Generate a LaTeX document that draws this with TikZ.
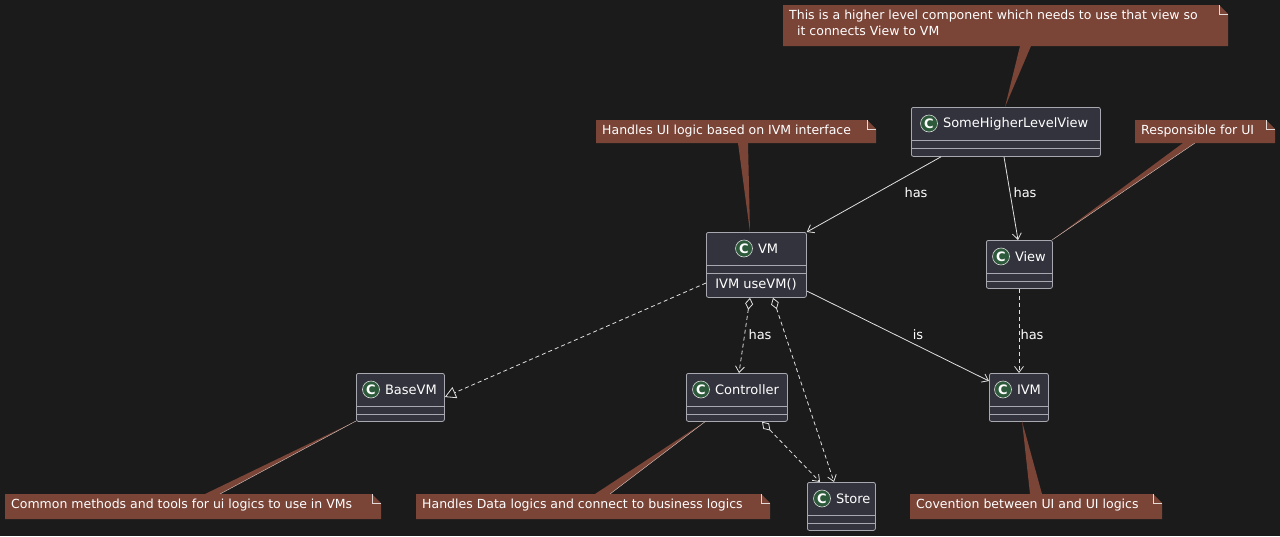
\documentclass[tikz,border=0pt]{standalone}
\usepackage{fontspec}
\setmainfont{DejaVu Sans}
\usetikzlibrary{calc,arrows.meta}
\definecolor{bg}{HTML}{1B1B1B}
\definecolor{cls}{HTML}{33333D}
\definecolor{clsline}{HTML}{A8A8B0}
\definecolor{notefill}{HTML}{7A4437}
\definecolor{circ}{HTML}{2D5A3A}
\definecolor{edge}{HTML}{E0E0E0}
\tikzset{
 classbox/.style={draw=clsline,fill=cls,rounded corners=2pt,inner sep=0pt,line width=0.8pt},
 hdr/.style={text=white,font=\fontsize{13}{15}\selectfont,inner sep=0pt,anchor=west},
 notetext/.style={text=white,font=\fontsize{12.5}{15.5}\selectfont,align=left,inner sep=0pt,anchor=north west},
 rel/.style={draw=edge,line width=0.8pt},
 arr/.style={-{Straight Barb[length=6pt,width=9pt]}},
 lab/.style={text=white,font=\fontsize{13}{15}\selectfont,inner sep=1pt},
}
% name, x1, y1, x2, y2, title, x of title text
\newcommand{\myclass}[7]{%
 \node[classbox,minimum width={#4-#2},minimum height={#5-#3},anchor=north west] (#1) at (#2,#3) {};
 \draw[clsline,line width=0.6pt] ($(#1.north west)+(0,33)$) -- ($(#1.north east)+(0,33)$);
 \draw[clsline,line width=0.6pt] ($(#1.north west)+(0,41)$) -- ($(#1.north east)+(0,41)$);
 \node[circle,fill=circ,draw=white!85!black,line width=0.6pt,minimum size=17pt,inner sep=0pt,text=white,font=\fontsize{13}{15}\selectfont\bfseries] (#1c) at ($(#1.north west)+(#7,16.5)$) {C};
 \node[hdr] (#1t) at ($(#1c.east)+(5,0)$) {#6};
}
% name, x1, y1, x2, y2, text
\newcommand{\mynote}[6]{%
 \fill[notefill] (#2,#3) -- ({#4-9},#3) -- (#4,{#3+9}) -- (#4,#5) -- (#2,#5) -- cycle;
 \draw[white!80!notefill,line width=0.5pt] ({#4-9},#3) -- ({#4-9},{#3+9}) -- (#4,{#3+9});
 \node[notetext] (#1) at ({#2+6},{#3+5}) {#6};
}
\begin{document}
\begin{tikzpicture}[x=1pt,y=-1pt]
\fill[bg] (0,0) rectangle (1280,536);
\useasboundingbox (0,0) rectangle (1280,536);

\myclass{shlv}{911}{107}{1100}{156}{SomeHigherLevelView}{18}
\myclass{vm}{706}{232}{806}{297}{VM}{38}
\node[text=white,font=\fontsize{13}{15}\selectfont] (vmm) at (756,284.5) {IVM useVM()};
\myclass{view}{986}{240}{1052}{288}{View}{15}
\myclass{basevm}{356}{373}{444}{421}{BaseVM}{15}
\myclass{ctrl}{686}{373}{787}{421}{Controller}{15}
\myclass{ivm}{989}{373}{1048}{421}{IVM}{14}
\myclass{store}{807}{482}{875}{530}{Store}{15}

% notes
\fill[notefill] (1020,46) -- (1031,46) -- (1005,107) -- cycle;
\mynote{n1}{783}{5}{1228}{46}{This is a higher level component which needs to use that view so\\\ \ it connects View to VM}
\fill[notefill] (738,143) -- (748,143) -- (750,232) -- cycle;
\mynote{n2}{596}{120}{876}{143}{Handles UI logic based on IVM interface}
\fill[notefill] (1183,143) -- (1195,143) -- (1052,240) -- cycle;
\draw[white!70!notefill,line width=0.4pt] (1195,143) -- (1052,240);
\mynote{n3}{1135}{120}{1275}{143}{Responsible for UI}
\fill[notefill] (205,494) -- (220,494) -- (356,421) -- cycle;
\draw[white!70!notefill,line width=0.4pt] (220,494) -- (356,421);
\mynote{n4}{5}{494}{381}{519}{Common methods and tools for ui logics to use in VMs}
\fill[notefill] (595,494) -- (610,494) -- (706,421) -- cycle;
\draw[white!70!notefill,line width=0.4pt] (610,494) -- (706,421);
\mynote{n5}{416}{494}{770}{519}{Handles Data logics and connect to business logics}
\fill[notefill] (1030,494) -- (1042,494) -- (1022,421) -- cycle;
\mynote{n6}{910}{494}{1162}{519}{Covention between UI and UI logics}

% relations
\draw[rel,arr] (shlv.south west)++(30,0) coordinate (a1) -- (vm.north east|-vm.north) coordinate[pos=0] (b1);
\draw[rel,arr] ($(shlv.south west)+(93,0)$) -- ($(view.north west)+(32,0)$);
\node[lab] at (916,193) {has};
\node[lab] at (1025,193) {has};

\draw[rel,dashed,dash pattern=on 4pt off 3pt,-{Triangle[open,length=11pt,width=12pt,fill=bg]}] ($(vm.north west)+(0,51)$) -- ($(basevm.north east)+(0,24)$);

\draw[rel,dashed,dash pattern=on 4pt off 3pt,{Diamond[open,length=12pt,width=8pt,fill=bg]}-{Straight Barb[length=6pt,width=9pt]}] ($(vm.south west)+(44,0)$) -- ($(ctrl.north west)+(53,0)$);
\node[lab] at (760,335) {has};
\draw[rel,dashed,dash pattern=on 4pt off 3pt,{Diamond[open,length=12pt,width=8pt,fill=bg]}-{Straight Barb[length=6pt,width=9pt]}] ($(vm.south west)+(67,0)$) -- ($(store.north west)+(27,0)$);
\draw[rel,dashed,dash pattern=on 4pt off 3pt,{Diamond[open,length=12pt,width=8pt,fill=bg]}-{Straight Barb[length=6pt,width=9pt]}] ($(ctrl.south west)+(76,0)$) -- ($(store.north west)+(13,0)$);

\draw[rel,arr] ($(vm.north east)+(0,59)$) -- ($(ivm.north west)+(0,8)$);
\node[lab] at (918,335) {is};
\draw[rel,dashed,dash pattern=on 4pt off 3pt,arr] ($(view.south west)+(33,0)$) -- ($(ivm.north west)+(30,0)$);
\node[lab] at (1032,335) {has};
\end{tikzpicture}
\end{document}
